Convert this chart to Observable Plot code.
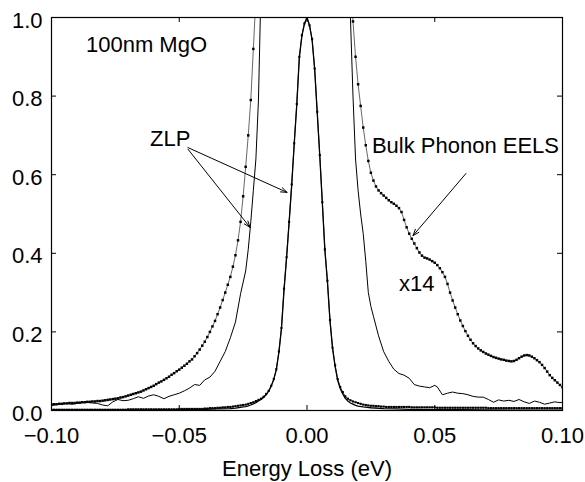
<!DOCTYPE html>
<html><head><meta charset="utf-8">
<script src="https://cdn.jsdelivr.net/npm/d3@7"></script>
<script src="https://cdn.jsdelivr.net/npm/@observablehq/plot@0.6"></script>
<style>body{margin:0;background:#fff}</style>
</head><body><div id="chart"></div>
<script>
// spectrometer channel width (eV) for the sampled spectra
const energyStep = 0.001;

// Bulk phonon EELS, x14 (dotted), left branch from -0.100 eV
const eelsX14LeftStart = -0.100;
const eelsX14Left = [
0.015,0.016,0.016,0.017,0.017,0.018,0.018,0.019,0.019,0.019,
0.020,0.020,0.021,0.021,0.022,0.022,0.023,0.023,0.024,0.024,
0.025,0.026,0.027,0.028,0.029,0.030,0.031,0.033,0.034,0.036,
0.038,0.040,0.042,0.044,0.046,0.048,0.051,0.054,0.057,0.060,
0.063,0.067,0.071,0.074,0.078,0.082,0.086,0.091,0.095,0.100,
0.104,0.109,0.114,0.119,0.125,0.130,0.138,0.146,0.155,0.165,
0.175,0.187,0.200,0.214,0.228,0.245,0.262,0.281,0.300,0.320,
0.340,0.366,0.395,0.433,0.480,0.545,0.620,0.700,0.790,0.920,
1.050];
// right branch from +0.017 eV
const eelsX14RightStart = 0.017;
const eelsX14Right = [
1.100,0.990,0.900,0.830,0.775,0.720,0.675,0.635,0.605,0.585,
0.570,0.560,0.553,0.547,0.541,0.535,0.530,0.526,0.521,0.515,
0.505,0.485,0.466,0.450,0.437,0.425,0.413,0.402,0.394,0.389,
0.387,0.384,0.380,0.376,0.370,0.362,0.352,0.340,0.322,0.300,
0.280,0.262,0.245,0.229,0.215,0.202,0.190,0.180,0.171,0.164,
0.158,0.153,0.149,0.145,0.142,0.139,0.136,0.134,0.132,0.130,
0.129,0.127,0.126,0.125,0.126,0.129,0.133,0.137,0.140,0.141,
0.140,0.137,0.133,0.128,0.123,0.116,0.108,0.099,0.090,0.083,
0.077,0.071,0.065,0.059];

// Narrow ZLP / EELS (dotted), from -0.100 eV
const zlpDottedStart = -0.100;
const zlpDotted = [
0.002,0.002,0.002,0.002,0.002,0.002,0.002,0.002,0.002,0.002,
0.002,0.002,0.002,0.002,0.002,0.002,0.002,0.002,0.002,0.002,
0.002,0.002,0.002,0.002,0.002,0.002,0.002,0.002,0.002,0.002,
0.003,0.003,0.003,0.003,0.003,0.003,0.003,0.003,0.003,0.003,
0.003,0.003,0.003,0.003,0.003,0.003,0.003,0.003,0.003,0.003,
0.004,0.004,0.004,0.004,0.004,0.004,0.004,0.004,0.004,0.004,
0.005,0.005,0.006,0.006,0.006,0.007,0.007,0.008,0.008,0.009,
0.009,0.010,0.011,0.012,0.013,0.014,0.015,0.017,0.019,0.021,
0.024,0.027,0.030,0.035,0.042,0.050,0.063,0.080,0.105,0.150,
0.210,0.310,0.390,0.480,0.575,0.680,0.780,0.900,0.955,0.985,
1.000,
0.980,0.945,0.870,0.760,0.650,0.530,0.410,0.330,0.230,0.160,
0.115,0.080,0.060,0.047,0.036,0.030,0.026,0.023,0.021,0.019,
0.017,0.015,0.014,0.013,0.012,0.012,0.011,0.011,0.010,0.010,
0.009,0.009,0.009,0.009,0.009,0.009,0.009,0.009,0.009,0.009,
0.008,0.008,0.008,0.008,0.008,0.008,0.008,0.008,0.008,0.008,
0.007,0.007,0.007,0.007,0.007,0.007,0.007,0.007,0.007,0.007,
0.007,0.007,0.007,0.007,0.007,0.007,0.007,0.007,0.007,0.007,
0.006,0.006,0.006,0.006,0.006,0.006,0.006,0.006,0.006,0.006,
0.006,0.006,0.006,0.006,0.006,0.006,0.006,0.006,0.006,0.006,
0.006,0.006,0.006,0.006,0.006,0.006,0.006,0.006,0.006,0.006];

// Narrow ZLP (solid): [energy, intensity]
const zlpSolid = [
[-0.100,0.001],[-0.080,0.001],[-0.060,0.001],[-0.050,0.002],[-0.040,0.003],[-0.035,0.004],
[-0.030,0.005],[-0.028,0.006],[-0.026,0.008],[-0.025,0.009],[-0.024,0.010],[-0.023,0.012],
[-0.022,0.014],[-0.021,0.017],[-0.020,0.020],[-0.019,0.024],[-0.018,0.028],[-0.017,0.033],
[-0.016,0.040],[-0.015,0.049],[-0.014,0.062],[-0.013,0.079],[-0.012,0.104],[-0.011,0.148],
[-0.010,0.208],[-0.009,0.305],[-0.008,0.388],[-0.007,0.478],[-0.006,0.572],[-0.005,0.678],
[-0.004,0.778],[-0.003,0.898],[-0.002,0.953],[-0.001,0.984],[0.000,1.000],
[0.001,0.979],[0.002,0.943],[0.003,0.868],[0.004,0.758],[0.005,0.648],[0.006,0.528],
[0.007,0.408],[0.008,0.327],[0.009,0.228],[0.010,0.158],[0.011,0.112],[0.012,0.077],
[0.013,0.056],[0.014,0.042],[0.015,0.031],[0.016,0.024],[0.017,0.019],[0.018,0.016],
[0.019,0.013],[0.020,0.011],[0.022,0.009],[0.025,0.007],[0.030,0.005],[0.035,0.004],
[0.040,0.003],[0.050,0.002],[0.060,0.002],[0.080,0.001],[0.100,0.001]];

// ZLP x14 (solid), left and right branches: [energy, intensity]
const zlpX14Left = [
[-0.100,0.013],[-0.098,0.015],[-0.096,0.017],[-0.094,0.018],[-0.092,0.016],[-0.090,0.018],
[-0.088,0.020],[-0.086,0.021],[-0.084,0.019],[-0.082,0.018],[-0.080,0.014],[-0.078,0.012],
[-0.076,0.022],[-0.074,0.028],[-0.072,0.025],[-0.070,0.026],[-0.068,0.030],[-0.066,0.035],
[-0.064,0.031],[-0.062,0.037],[-0.060,0.040],[-0.058,0.036],[-0.056,0.030],[-0.054,0.036],
[-0.052,0.040],[-0.050,0.044],[-0.048,0.050],[-0.046,0.057],[-0.044,0.066],[-0.042,0.064],
[-0.040,0.078],[-0.038,0.085],[-0.036,0.100],[-0.034,0.125],[-0.032,0.150],[-0.030,0.185],
[-0.028,0.225],[-0.026,0.297],[-0.024,0.355],[-0.023,0.410],[-0.022,0.480],[-0.021,0.560],
[-0.020,0.640],[-0.019,0.790],[-0.018,1.080]];
const zlpX14Right = [
[0.016,1.250],[0.017,1.000],[0.018,0.800],[0.019,0.640],[0.020,0.560],[0.021,0.500],
[0.022,0.450],[0.023,0.380],[0.024,0.300],[0.025,0.265],[0.026,0.240],[0.028,0.190],
[0.030,0.150],[0.032,0.125],[0.034,0.105],[0.036,0.094],[0.038,0.090],[0.040,0.082],
[0.042,0.066],[0.044,0.062],[0.046,0.060],[0.048,0.058],[0.050,0.064],[0.051,0.060],
[0.053,0.040],[0.055,0.044],[0.057,0.047],[0.059,0.044],[0.061,0.043],[0.063,0.040],
[0.065,0.036],[0.067,0.034],[0.069,0.034],[0.071,0.028],[0.073,0.021],[0.075,0.027],
[0.077,0.024],[0.079,0.026],[0.081,0.023],[0.083,0.028],[0.085,0.022],[0.087,0.018],
[0.089,0.024],[0.091,0.021],[0.093,0.016],[0.095,0.019],[0.097,0.022],[0.099,0.020],
[0.100,0.021]];

// axes
const xTicks = [-0.10, -0.05, 0.00, 0.05, 0.10];
const xInnerTicks = [-0.05, 0.00, 0.05];
const yTicks = [0.0, 0.2, 0.4, 0.6, 0.8, 1.0];
const yInnerTicks = [0.2, 0.4, 0.6, 0.8];
const xLabel = "Energy Loss (eV)";

// annotations
const labels = [
  {text: "100nm MgO", x: -0.0865, y: 0.911},
  {text: "ZLP", x: -0.0614, y: 0.674},
  {text: "Bulk Phonon EELS", x: 0.0254, y: 0.654},
  {text: "x14", x: 0.036, y: 0.305}
];
const arrows = [
  {x1: -0.0466, y1: 0.669, x2: -0.0078, y2: 0.555},
  {x1: -0.0466, y1: 0.665, x2: -0.0223, y2: 0.466},
  {x1: 0.0622, y1: 0.603, x2: 0.0415, y2: 0.445}
];

const sampled = (start, vals) => vals.map((v, i) => ({e: +(start + i * energyStep).toFixed(3), v}));
const pairs = arr => arr.map(([e, v]) => ({e, v}));

const eL = sampled(eelsX14LeftStart, eelsX14Left);
const eR = sampled(eelsX14RightStart, eelsX14Right);
const zD = sampled(zlpDottedStart, zlpDotted);
const zS = pairs(zlpSolid);
const z14L = pairs(zlpX14Left);
const z14R = pairs(zlpX14Right);

const lineOpts = (w) => ({x: "e", y: "v", stroke: "black", strokeWidth: w, clip: true});
const dotOpts = {x: "e", y: "v", fill: "black", r: 1.4, symbol: "square", clip: true};

const chart = Plot.plot({
  width: 585, height: 482,
  marginLeft: 51, marginRight: 23, marginTop: 17, marginBottom: 72,
  style: {fontFamily: "'Liberation Sans', Arial, Helvetica, sans-serif", fontSize: "22px", background: "white", color: "black"},
  x: {domain: [-0.1, 0.1]},
  y: {domain: [0, 1]},
  marks: [
    Plot.line(z14L, lineOpts(1)),
    Plot.line(z14R, lineOpts(1)),
    Plot.line(eL, lineOpts(0.6)),
    Plot.line(eR, lineOpts(0.6)),
    Plot.dot(eL, dotOpts),
    Plot.dot(eR, dotOpts),
    Plot.line(zS, lineOpts(1.3)),
    Plot.line(zD, lineOpts(0.8)),
    Plot.dot(zD, {...dotOpts, r: 1.2}),
    Plot.tickX(xInnerTicks, {x: d => d, insetTop: 388, stroke: "black"}),
    Plot.tickX(xInnerTicks, {x: d => d, insetBottom: 388, stroke: "black"}),
    Plot.tickY(yInnerTicks, {y: d => d, insetRight: 506, stroke: "black"}),
    Plot.tickY(yInnerTicks, {y: d => d, insetLeft: 506, stroke: "black"}),
    Plot.frame({stroke: "black", strokeWidth: 1.2}),
    Plot.axisX(xTicks, {tickSize: 0, tickPadding: 17, tickFormat: d3.format(".2f"), label: null}),
    Plot.axisY(yTicks, {tickSize: 0, tickPadding: 9, tickFormat: d3.format(".1f"), label: null, dy: 3}),
    Plot.text([xLabel], {text: d => d, frameAnchor: "bottom", dy: 65, lineAnchor: "bottom"}),
    Plot.text(labels, {x: "x", y: "y", text: "text", textAnchor: "start", lineAnchor: "bottom"}),
    Plot.arrow(arrows, {x1: "x1", y1: "y1", x2: "x2", y2: "y2", stroke: "black", strokeWidth: 1, headLength: 10, headAngle: 40})
  ]
});
document.getElementById("chart").appendChild(chart);
</script>
</body></html>
